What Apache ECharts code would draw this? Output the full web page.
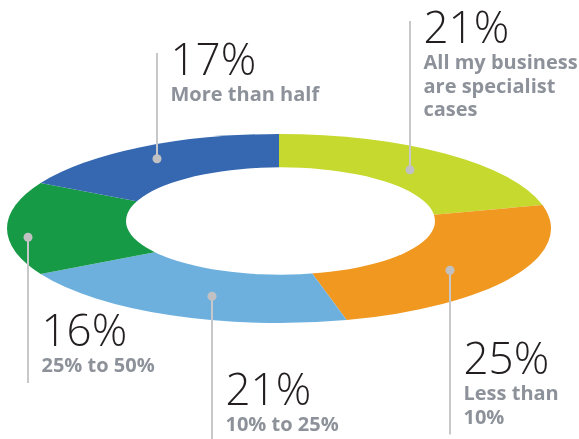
<!DOCTYPE html>
<html>
<head>
<meta charset="utf-8">
<script src="https://cdn.jsdelivr.net/npm/echarts@6/dist/echarts.min.js"></script>
<style>
  html, body { margin: 0; padding: 0; background: #fff; width: 579px; height: 439px; overflow: hidden; }
  #ring { position: absolute; left: 0; top: 0; width: 579px; transform-origin: 0 0; }
  #notes { position: absolute; left: 0; top: 0; width: 579px; height: 439px; }
</style>
</head>
<body>
<div id="ring"></div>
<div id="notes"></div>
<script>
// Share of business that is specialist work
const categories = [
  'All my business\nare specialist\ncases',
  'Less than\n10%',
  '10% to 25%',
  '25% to 50%',
  'More than half'
];
const values = [21, 25, 21, 16, 17];
const colors = ['#c5d92e', '#f0981f', '#6db0de', '#179a46', '#3568b1'];

// Ring geometry in page pixels: the pie is drawn round and squashed vertically
const CX = 279, CY = 228.5, RX = 272, RY = 94.5;
const HOLE_CX = 280.5, HOLE_CY = 221, HOLE_R = 154.5;
const K = RY / RX;

const ringEl = document.getElementById('ring');
const H = Math.ceil(439 / K);
ringEl.style.height = H + 'px';
ringEl.style.transform = 'scaleY(' + K + ')';

const ring = echarts.init(ringEl, null, { renderer: 'svg', width: 579, height: H });
ring.setOption({
  animation: false,
  series: [{
    type: 'pie',
    center: [CX, CY / K],
    radius: [0, RX],
    startAngle: 90,
    clockwise: true,
    silent: true,
    label: { show: false },
    labelLine: { show: false },
    itemStyle: { borderWidth: 0 },
    data: values.map((v, i) => ({ name: categories[i], value: v, itemStyle: { color: colors[i] } }))
  }],
  graphic: [{
    type: 'circle',
    z: 100,
    silent: true,
    shape: { cx: HOLE_CX, cy: HOLE_CY / K, r: HOLE_R },
    style: { fill: '#ffffff' }
  }]
});

// Callouts: where each pointer sits inside its slice and where its text block goes
const callouts = [
  { t: 0.50, f: 0.786, base: 45,  up: true },
  { t: 0.55, f: 0.769, base: 376, up: false },
  { t: 0.44, f: 0.757, base: 407, up: false },
  { t: 0.40, f: 0.928, base: 348, up: false },
  { t: 0.49, f: 0.863, base: 77,  up: true }
];

const NUM_SIZE = 44, LAB_SIZE = 20, LAB_GAP = 25, LAB_LH = 23.5;
const MID = 0.33; // distance from glyph middle to baseline, in em
const total = values.reduce((a, b) => a + b, 0);
let acc = 0;
const els = [];
values.forEach((v, i) => {
  const a0 = acc / total * 360;
  const a1 = (acc + v) / total * 360;
  acc += v;
  const c = callouts[i];
  const th = (a0 + (a1 - a0) * c.t) * Math.PI / 180;
  const px = Math.round(CX + c.f * RX * Math.sin(th));
  const py = CY - c.f * RY * Math.cos(th);
  const lines = categories[i].split('\n');
  const lastBase = c.base + LAB_GAP + (lines.length - 1) * LAB_LH;
  const yEnd = c.up ? c.base - 24 : lastBase + 10;
  const tx = px + 13.5;

  els.push({
    type: 'line', silent: true,
    shape: { x1: px, y1: py, x2: px, y2: yEnd },
    style: { stroke: '#c8c8cb', lineWidth: 2 }
  });
  els.push({
    type: 'circle', silent: true,
    shape: { cx: px, cy: py, r: 4.5 },
    style: { fill: '#c1c1c4' }
  });
  els.push({
    type: 'text', silent: true,
    x: tx, y: c.base - MID * NUM_SIZE,
    style: {
      text: v + '%',
      font: '300 ' + NUM_SIZE + 'px "Open Sans"',
      fill: '#231f20',
      align: 'left', verticalAlign: 'middle',
      textAlign: 'left', textVerticalAlign: 'middle'
    }
  });
  lines.forEach((s, j) => {
    els.push({
      type: 'text', silent: true,
      x: tx, y: c.base + LAB_GAP + j * LAB_LH - MID * LAB_SIZE,
      style: {
        text: s,
        font: 'bold ' + LAB_SIZE + 'px "Open Sans"',
        fill: '#8d929a',
        align: 'left', verticalAlign: 'middle',
        textAlign: 'left', textVerticalAlign: 'middle'
      }
    });
  });
});

const notes = echarts.init(document.getElementById('notes'), null, { width: 579, height: 439 });
notes.setOption({ animation: false, graphic: els });
</script>
</body>
</html>
